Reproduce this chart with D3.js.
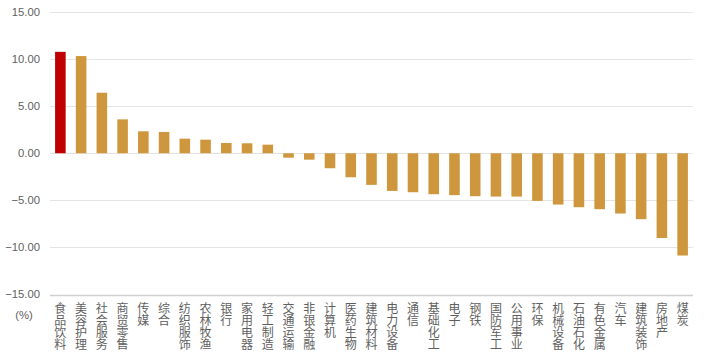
<!DOCTYPE html>
<html><head><meta charset="utf-8">
<script src="https://cdn.jsdelivr.net/npm/d3@7"></script>
<style>
html,body{margin:0;padding:0;background:#fff;}
svg{display:block;font-family:"Noto Sans CJK SC","Liberation Sans",Arial,sans-serif;}
</style></head>
<body>
<svg id="chart" width="706" height="359"></svg>
<script>
const categories = ["食品饮料","美容护理","社会服务","商贸零售","传媒","综合","纺织服饰","农林牧渔","银行","家用电器","轻工制造","交通运输","非银金融","计算机","医药生物","建筑材料","电力设备","通信","基础化工","电子","钢铁","国防军工","公用事业","环保","机械设备","石油石化","有色金属","汽车","建筑装饰","房地产","煤炭"];
const values = [10.77,10.32,6.43,3.60,2.33,2.26,1.55,1.44,1.09,1.06,0.91,-0.47,-0.68,-1.59,-2.55,-3.36,-4.00,-4.14,-4.35,-4.45,-4.56,-4.60,-4.60,-5.06,-5.45,-5.73,-5.94,-6.40,-7.00,-9.00,-10.86];
const yTicks = [15,10,5,0,-5,-10,-15];
const highlight = "食品饮料";

(function(){
const svg = d3.select("#chart");
const mLeft = 50, mRight = 693, mTop = 12, mBottom = 294.5;

const x = d3.scaleBand().domain(categories).range([mLeft, mRight]).paddingInner(0.49).paddingOuter(0.245);
const y = d3.scaleLinear().domain([-15, 15]).range([mBottom, mTop]);

svg.append("g").selectAll("line").data(yTicks).join("line")
  .attr("x1", mLeft).attr("x2", mRight)
  .attr("y1", d => Math.round(y(d)) + 0.5).attr("y2", d => Math.round(y(d)) + 0.5)
  .attr("stroke", d => d === -15 ? "#d0d0d0" : "#e4e4e4").attr("stroke-width", d => d === -15 ? 1.5 : 1);

svg.append("g").selectAll("text").data(yTicks).join("text")
  .attr("x", 40).attr("y", d => y(d)).attr("dy", "0.35em")
  .attr("text-anchor", "end").attr("fill", "#5f5f5f")
  .style("font-family", "'Liberation Sans', Arial, sans-serif").style("font-size", "11.3px")
  .text(d => d3.format(".2f")(d));

svg.append("text").attr("x", 24).attr("y", 319).attr("text-anchor", "middle")
  .attr("fill", "#5f5f5f").style("font-family", "'Liberation Sans', Arial, sans-serif").style("font-size", "11.3px").text("(%)");

svg.append("g").selectAll("rect").data(categories).join("rect")
  .attr("x", d => x(d)).attr("width", x.bandwidth())
  .attr("y", (d, i) => y(Math.max(0, values[i])))
  .attr("height", (d, i) => Math.abs(y(values[i]) - y(0)))
  .attr("fill", d => d === highlight ? "#C00000" : "#CF973D");

svg.append("g").selectAll("text").data(categories).join("text")
  .attr("x", d => x(d) + x.bandwidth() / 2).attr("y", 302)
  .style("writing-mode", "vertical-rl").style("text-orientation", "upright")
  .attr("fill", "#5f5f5f").style("font-size", "12px")
  .text(d => d);
})();
</script>
</body></html>
